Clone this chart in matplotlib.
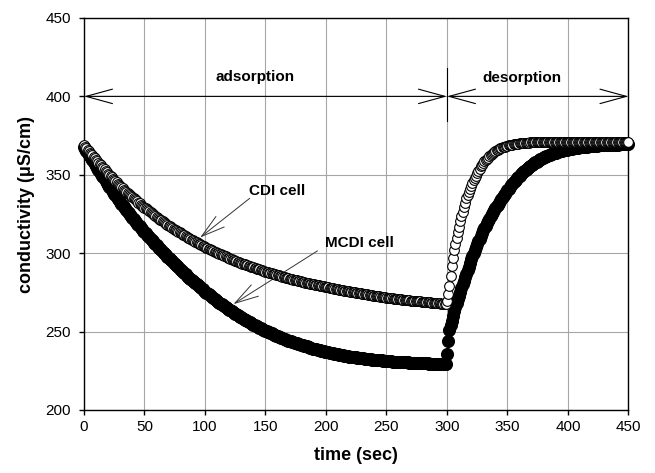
import numpy as np
import matplotlib
matplotlib.use("Agg")
import matplotlib.pyplot as plt

plt.rcParams['font.family'] = ['Liberation Sans', 'DejaVu Sans']

# sample times (sec), one reading per second
time = np.arange(0, 451, 1)

# CDI cell conductivity (uS/cm), open circles
cdi = [
    # adsorption 0-299 s
    369.0, 368.0, 367.1, 366.1, 365.2, 364.2, 363.2, 362.3, 361.4, 360.4,
    359.5, 358.6, 357.7, 356.8, 356.0, 355.1, 354.3, 353.4, 352.5, 351.6,
    350.8, 350.0, 349.2, 348.4, 347.6, 346.8, 346.0, 345.2, 344.4, 343.6,
    342.8, 342.0, 341.3, 340.6, 339.9, 339.1, 338.4, 337.7, 337.0, 336.3,
    335.6, 334.9, 334.3, 333.6, 333.0, 332.3, 331.7, 331.0, 330.4, 329.7,
    329.1, 328.5, 327.9, 327.3, 326.7, 326.1, 325.5, 324.9, 324.3, 323.7,
    323.1, 322.5, 322.0, 321.4, 320.9, 320.3, 319.8, 319.2, 318.7, 318.1,
    317.6, 317.1, 316.6, 316.1, 315.6, 315.1, 314.7, 314.2, 313.7, 313.2,
    312.7, 312.2, 311.8, 311.3, 310.9, 310.4, 309.9, 309.5, 309.0, 308.5,
    308.1, 307.7, 307.3, 306.9, 306.5, 306.0, 305.6, 305.2, 304.8, 304.4,
    304.0, 303.6, 303.3, 302.9, 302.5, 302.1, 301.8, 301.4, 301.0, 300.6,
    300.3, 299.9, 299.6, 299.2, 298.9, 298.6, 298.3, 297.9, 297.6, 297.2,
    296.9, 296.6, 296.3, 295.9, 295.6, 295.3, 295.0, 294.6, 294.3, 294.0,
    293.7, 293.4, 293.1, 292.8, 292.6, 292.3, 292.0, 291.7, 291.5, 291.2,
    290.9, 290.6, 290.4, 290.1, 289.9, 289.6, 289.3, 289.0, 288.8, 288.5,
    288.3, 288.0, 287.8, 287.6, 287.4, 287.1, 286.9, 286.7, 286.5, 286.2,
    286.0, 285.8, 285.6, 285.3, 285.1, 284.9, 284.7, 284.4, 284.2, 284.0,
    283.8, 283.6, 283.4, 283.2, 283.0, 282.8, 282.7, 282.5, 282.3, 282.1,
    281.9, 281.7, 281.5, 281.3, 281.2, 281.0, 280.8, 280.6, 280.5, 280.3,
    280.1, 279.9, 279.8, 279.6, 279.5, 279.3, 279.1, 278.9, 278.8, 278.6,
    278.5, 278.3, 278.2, 278.0, 277.9, 277.7, 277.6, 277.4, 277.2, 277.0,
    276.9, 276.7, 276.6, 276.4, 276.3, 276.2, 276.1, 275.9, 275.8, 275.6,
    275.5, 275.3, 275.2, 275.1, 275.0, 274.8, 274.7, 274.6, 274.5, 274.3,
    274.2, 274.1, 274.0, 273.8, 273.7, 273.5, 273.4, 273.3, 273.2, 273.0,
    272.9, 272.8, 272.7, 272.5, 272.4, 272.3, 272.2, 272.0, 271.9, 271.8,
    271.7, 271.6, 271.5, 271.4, 271.3, 271.2, 271.1, 271.0, 270.9, 270.8,
    270.7, 270.6, 270.5, 270.4, 270.3, 270.2, 270.2, 270.1, 270.0, 269.9,
    269.8, 269.7, 269.7, 269.6, 269.5, 269.4, 269.3, 269.2, 269.2, 269.1,
    269.0, 268.9, 268.9, 268.8, 268.7, 268.6, 268.6, 268.5, 268.4, 268.3,
    268.3, 268.2, 268.1, 268.0, 268.0, 267.9, 267.9, 267.8, 267.8, 267.8,
    # desorption 300-450 s
    269.5, 274.0, 279.0, 285.5, 292.0, 297.0, 302.0, 306.0, 310.0, 313.5,
    317.0, 320.3, 323.5, 326.5, 329.5, 332.3, 335.0, 337.0, 339.0, 341.0,
    343.0, 344.8, 346.5, 348.0, 349.5, 351.0, 352.5, 354.0, 355.5, 356.5,
    357.5, 358.5, 359.5, 360.3, 361.0, 361.8, 362.5, 363.3, 364.0, 364.5,
    365.0, 365.5, 366.0, 366.4, 366.8, 367.1, 367.4, 367.7, 368.0, 368.3,
    368.5, 368.7, 368.9, 369.1, 369.2, 369.4, 369.5, 369.7, 369.8, 369.9,
    370.0, 370.1, 370.2, 370.3, 370.3, 370.4, 370.4, 370.5, 370.5, 370.6,
    370.6, 370.7, 370.7, 370.8, 370.8, 370.9, 370.9, 371.0, 371.0, 371.0,
    371.0, 371.1, 371.1, 371.0, 371.1, 371.1, 371.2, 371.1, 371.0, 371.1,
    371.1, 371.0, 371.1, 371.2, 371.1, 371.1, 371.0, 371.1, 371.1, 371.2,
    371.1, 371.1, 371.0, 371.1, 371.2, 371.1, 371.0, 371.1, 371.1, 371.0,
    371.1, 371.2, 371.1, 371.1, 371.0, 371.1, 371.1, 371.2, 371.1, 371.0,
    371.1, 371.1, 371.2, 371.1, 371.0, 371.1, 371.1, 371.0, 371.1, 371.2,
    371.1, 371.0, 371.1, 371.1, 371.2, 371.1, 371.0, 371.1, 371.1, 371.0,
    371.1, 371.2, 371.1, 371.0, 371.1, 371.1, 371.0, 371.1, 371.0, 370.9,
    370.8,
]

# MCDI cell conductivity (uS/cm), filled circles
mcdi = [
    # adsorption 0-299 s
    368.0, 366.7, 365.4, 364.2, 362.9, 361.7, 360.4, 359.2, 357.9, 356.7,
    355.5, 354.3, 353.1, 351.9, 350.7, 349.5, 348.3, 347.1, 345.9, 344.7,
    343.5, 342.4, 341.3, 340.2, 339.1, 338.0, 336.9, 335.8, 334.7, 333.6,
    332.5, 331.5, 330.5, 329.5, 328.5, 327.5, 326.5, 325.5, 324.5, 323.5,
    322.5, 321.6, 320.7, 319.8, 318.9, 318.0, 317.1, 316.2, 315.3, 314.4,
    313.5, 312.6, 311.8, 310.9, 310.1, 309.2, 308.4, 307.5, 306.7, 305.8,
    305.0, 304.2, 303.4, 302.6, 301.8, 301.0, 300.2, 299.4, 298.6, 297.8,
    297.0, 296.2, 295.5, 294.7, 294.0, 293.2, 292.4, 291.6, 290.9, 290.1,
    289.3, 288.6, 287.9, 287.2, 286.5, 285.7, 285.0, 284.3, 283.6, 282.9,
    282.2, 281.5, 280.9, 280.2, 279.6, 278.9, 278.2, 277.5, 276.9, 276.2,
    275.5, 274.9, 274.3, 273.7, 273.1, 272.5, 271.9, 271.3, 270.7, 270.1,
    269.5, 269.0, 268.4, 267.9, 267.3, 266.8, 266.2, 265.7, 265.1, 264.6,
    264.0, 263.5, 263.0, 262.5, 262.0, 261.5, 261.0, 260.5, 260.0, 259.5,
    259.0, 258.5, 258.1, 257.6, 257.2, 256.7, 256.3, 255.8, 255.4, 254.9,
    254.5, 254.1, 253.7, 253.3, 252.9, 252.5, 252.1, 251.7, 251.3, 250.9,
    250.5, 250.2, 249.8, 249.5, 249.1, 248.8, 248.4, 248.1, 247.7, 247.4,
    247.0, 246.7, 246.4, 246.1, 245.8, 245.5, 245.2, 244.9, 244.6, 244.3,
    244.0, 243.7, 243.5, 243.2, 243.0, 242.7, 242.5, 242.2, 242.0, 241.7,
    241.5, 241.2, 241.0, 240.7, 240.5, 240.2, 240.0, 239.7, 239.5, 239.2,
    239.0, 238.8, 238.6, 238.4, 238.2, 238.0, 237.8, 237.6, 237.4, 237.2,
    237.0, 236.8, 236.7, 236.5, 236.4, 236.2, 236.1, 235.9, 235.8, 235.6,
    235.5, 235.3, 235.2, 235.0, 234.9, 234.7, 234.6, 234.4, 234.3, 234.1,
    234.0, 233.9, 233.8, 233.7, 233.6, 233.5, 233.4, 233.3, 233.2, 233.1,
    233.0, 232.9, 232.8, 232.7, 232.6, 232.5, 232.4, 232.3, 232.2, 232.1,
    232.0, 231.9, 231.9, 231.8, 231.7, 231.6, 231.6, 231.5, 231.4, 231.3,
    231.3, 231.2, 231.2, 231.1, 231.0, 230.9, 230.9, 230.8, 230.8, 230.7,
    230.7, 230.6, 230.6, 230.5, 230.5, 230.4, 230.4, 230.3, 230.3, 230.2,
    230.2, 230.1, 230.1, 230.0, 230.0, 229.9, 229.9, 229.9, 229.9, 229.8,
    229.8, 229.7, 229.7, 229.7, 229.7, 229.6, 229.6, 229.6, 229.6, 229.5,
    229.5, 229.5, 229.5, 229.4, 229.4, 229.4, 229.4, 229.3, 229.3, 229.3,
    # desorption 300-450 s
    236.0, 244.0, 251.0, 254.0, 257.0, 260.0, 263.0, 265.5, 268.0, 270.5,
    273.0, 275.5, 278.0, 280.3, 282.5, 284.8, 287.0, 289.3, 291.5, 293.8,
    296.0, 298.0, 300.0, 302.0, 304.0, 305.8, 307.5, 309.3, 311.0, 312.8,
    314.5, 316.0, 317.5, 319.0, 320.5, 322.0, 323.5, 324.8, 326.0, 327.3,
    328.5, 329.8, 331.0, 332.3, 333.5, 334.7, 335.8, 336.9, 338.0, 339.1,
    340.2, 341.2, 342.2, 343.2, 344.2, 345.1, 346.0, 346.9, 347.8, 348.7,
    349.5, 350.3, 351.0, 351.8, 352.5, 353.2, 353.8, 354.5, 355.1, 355.7,
    356.3, 356.9, 357.4, 357.9, 358.4, 358.9, 359.4, 359.9, 360.3, 360.7,
    361.1, 361.5, 361.8, 362.2, 362.5, 362.8, 363.1, 363.4, 363.7, 364.0,
    364.2, 364.5, 364.7, 364.9, 365.1, 365.3, 365.5, 365.7, 365.9, 366.1,
    366.2, 366.4, 366.5, 366.7, 366.8, 366.9, 367.0, 367.2, 367.3, 367.4,
    367.5, 367.6, 367.7, 367.8, 367.9, 368.0, 368.0, 368.1, 368.2, 368.3,
    368.3, 368.4, 368.5, 368.5, 368.6, 368.7, 368.7, 368.8, 368.8, 368.9,
    368.9, 369.0, 369.0, 369.1, 369.1, 369.2, 369.2, 369.2, 369.2, 369.3,
    369.3, 369.3, 369.4, 369.4, 369.4, 369.5, 369.5, 369.5, 369.5, 369.6,
    369.6,
]

x_ticks = [0, 50, 100, 150, 200, 250, 300, 350, 400, 450]
y_ticks = [200, 250, 300, 350, 400, 450]

fig = plt.figure(figsize=(6.55, 4.73), dpi=100)
ax = fig.add_axes([0.1282, 0.1332, 0.8313, 0.8288])

ax.plot(time, mcdi, 'o', ls='none', ms=8.6, mfc='black', mec='black',
        mew=0.8, clip_on=False, zorder=3)
ax.plot(time, cdi, 'o', ls='none', ms=7.0, mfc='white', mec='black',
        mew=0.8, clip_on=False, zorder=4)

ax.set_xlim(0, 450)
ax.set_ylim(200, 450)
ax.set_xticks(x_ticks)
ax.set_yticks(y_ticks)
ax.grid(True, color='#a6a6a6', lw=0.8)
ax.set_axisbelow(True)
for s in ax.spines.values():
    s.set_linewidth(1.0)
ax.tick_params(axis='both', labelsize=11, length=3.5, width=1.0, direction='out')
ax.tick_params(axis='x', pad=4)
ax.tick_params(axis='y', pad=6)

ax.set_xlabel('time (sec)', fontsize=13, fontweight='bold')
ax.set_ylabel('conductivity (\u03bcS/cm)', fontsize=13, fontweight='bold')
ax.xaxis.set_label_coords(0.5, -0.095)
ax.yaxis.set_label_coords(-0.09, 0.525)

# adsorption / desorption spans
span = dict(arrowstyle='<->,head_length=1.9,head_width=0.52', lw=0.8,
            color='black', shrinkA=0, shrinkB=0, mutation_scale=10)
ax.annotate('', xy=(0, 400), xytext=(300, 400), arrowprops=span,
            annotation_clip=False)
ax.annotate('', xy=(300, 400), xytext=(450, 400), arrowprops=span,
            annotation_clip=False)
ax.plot([300, 300], [384, 418], color='black', lw=0.8, zorder=2)
ax.text(141, 412.5, 'adsorption', fontsize=11, fontweight='bold',
        ha='center', va='center')
ax.text(362, 411.5, 'desorption', fontsize=11, fontweight='bold',
        ha='center', va='center')

# series labels
pointer = dict(arrowstyle='->,head_length=1.7,head_width=0.48', lw=0.7,
               color='#333333', shrinkA=0, shrinkB=0, mutation_scale=10)
ax.annotate('', xy=(96, 310), xytext=(137, 335), arrowprops=pointer)
ax.text(160, 339.5, 'CDI cell', fontsize=11, fontweight='bold',
        ha='center', va='center')
ax.annotate('', xy=(123.5, 267.5), xytext=(193, 301.5), arrowprops=pointer)
ax.text(228, 306.5, 'MCDI cell', fontsize=11, fontweight='bold',
        ha='center', va='center')

fig.savefig('out.png', dpi=100)
